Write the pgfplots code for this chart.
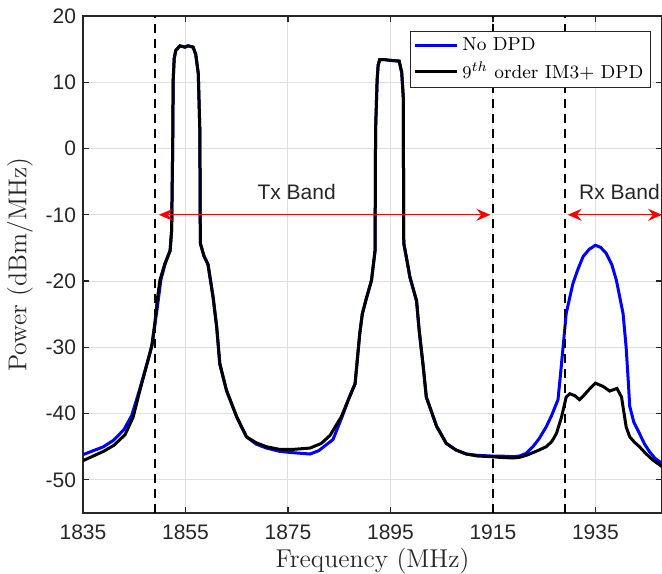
\documentclass[border=0pt]{standalone}
\usepackage{fontspec}
\usepackage{pgfplots}
\pgfplotsset{compat=1.18}
\usetikzlibrary{arrows.meta}
\newfontfamily\arial{Liberation Sans}
\definecolor{gridc}{RGB}{222,222,228}
\definecolor{axc}{RGB}{38,38,38}

\pgfplotstableread{
x y
1835 -46.2
1837 -45.6
1839 -45.0
1841 -44.0
1843 -42.4
1844.5 -40.3
1846 -36.5
1847.7 -31.9
1848.5 -29.5
1849.5 -24
1850.2 -19.8
1851 -17.5
1852 -15.4
1852.3 -12.3
1852.5 0
1852.6 10.3
1852.8 13.6
1853.1 14.8
1853.9 15.5
1854.9 15.3
1855.5 15.5
1856.5 15.3
1857.0 14.2
1857.5 11.3
1857.8 2.8
1857.9 -14.3
1858.6 -16.2
1859.4 -17.5
1860.4 -22.5
1861.1 -27
1861.7 -32.5
1863.0 -36.5
1865.0 -40.5
1866.9 -43.5
1868.8 -44.6
1870.8 -45.2
1873.4 -45.7
1876 -45.9
1879.3 -46.1
1881 -45.6
1883.8 -43.9
1885.4 -40.8
1887 -37.5
1888.1 -35.5
1889.0 -28
1889.5 -25
1890.2 -22.9
1891.3 -19.9
1892.0 -15.4
1892.1 2.8
1892.4 10.3
1892.6 12.6
1892.9 13.4
1894 13.4
1895 13.3
1896.7 13.2
1897.2 11.5
1897.5 7.8
1897.6 -14.3
1898.2 -16.8
1898.8 -19.4
1900.1 -23
1900.6 -27.4
1901.4 -32.9
1902.0 -37.5
1904.0 -41.9
1905.9 -44.5
1907.8 -45.5
1909.8 -46.1
1912 -46.3
1914.7 -46.4
1916.3 -46.4
1918.9 -46.5
1920.2 -46.4
1921.5 -46.0
1922.8 -45.0
1924 -43.8
1925.4 -42.0
1926.5 -40.2
1927.7 -37.9
1928.2 -34
1928.7 -29.9
1929.3 -24.9
1930.6 -20.4
1931.6 -18.2
1932.6 -16.3
1933.8 -15.2
1935.0 -14.6
1936 -14.9
1937.1 -15.8
1938.2 -17.5
1939.1 -19.9
1940.4 -24.9
1941.0 -30
1941.4 -34.9
1941.7 -38.9
1942.5 -41.3
1943.6 -43.0
1944.6 -44.6
1945.6 -45.8
1946.7 -46.8
1948 -47.5
}\nodpd

\pgfplotstableread{
x y
1835 -47.1
1837 -46.4
1839 -45.7
1841 -44.8
1843.2 -43.2
1844.8 -40.5
1846 -36.8
1847.7 -31.9
1848.4 -29.9
1849.0 -26.5
1849.5 -22.8
1850.0 -19.9
1851 -17.3
1852 -15.4
1852.3 -12.3
1852.5 0
1852.6 10.3
1852.8 13.6
1853.1 14.8
1853.9 15.5
1854.9 15.3
1855.5 15.5
1856.5 15.3
1857.0 14.2
1857.5 11.3
1857.8 2.8
1857.9 -14.3
1858.6 -16.2
1859.4 -17.5
1860.4 -22.5
1861.1 -27
1861.7 -32.5
1863.0 -36.5
1865.0 -40.5
1866.9 -43.5
1868.8 -44.4
1870.8 -45.0
1873.4 -45.4
1876 -45.4
1879.3 -45.2
1881.5 -44.5
1883.2 -43.3
1885.4 -40.5
1887 -37.5
1888.1 -35.5
1889.0 -28
1889.5 -25
1890.2 -22.9
1891.3 -19.9
1892.0 -15.4
1892.1 2.8
1892.4 10.3
1892.6 12.6
1892.9 13.4
1894 13.4
1895 13.3
1896.7 13.2
1897.2 11.5
1897.5 7.8
1897.6 -14.3
1898.2 -16.8
1898.8 -19.4
1900.1 -23
1900.6 -27.4
1901.4 -32.9
1902.0 -37.5
1904.0 -41.9
1905.9 -44.5
1907.8 -45.5
1909.8 -46.1
1912 -46.4
1914.7 -46.5
1916.3 -46.6
1918.9 -46.7
1920.2 -46.6
1921.5 -46.3
1922.8 -45.9
1924 -45.5
1925.4 -45.0
1926.5 -44.2
1927.4 -43.0
1928.4 -40.5
1929.3 -37.5
1930.0 -37.0
1931 -37.3
1931.9 -37.9
1932.8 -37.2
1933.6 -36.5
1935.0 -35.4
1936.5 -35.9
1937.8 -36.6
1939.2 -36.2
1940.1 -37.5
1941.0 -42.0
1941.7 -43.5
1942.6 -44.3
1943.6 -45.0
1944.8 -46.0
1946.2 -47.0
1948 -48.0
}\dpd

\begin{document}
\begin{tikzpicture}
\begin{axis}[
 name=ax, scale only axis, width=289.5pt, height=248.5pt,
 xmin=1835, xmax=1948, ymin=-55, ymax=20,
 xtick={1835,1855,...,1935}, ytick={-50,-40,...,20},
 grid=major, grid style={gridc, line width=0.5pt},
 tick align=inside, major tick length=3pt,
 axis line style={axc, line width=0.6pt}, tick style={axc, line width=0.6pt},
 ticklabel style={font=\arial\fontsize{10.5}{12}\selectfont, text=axc},
 /pgf/number format/assume math mode=true,
 /pgf/number format/1000 sep={},
 xticklabel style={yshift=-4.5pt, inner sep=1pt},
 xlabel={Frequency (MHz)}, ylabel={Power (dBm/MHz)},
 label style={font=\fontsize{12.9}{15}\selectfont, text=axc, inner sep=0pt},
 xlabel style={at={(axis description cs:0.5,-0.097)}, anchor=center},
 ylabel style={at={(axis description cs:-0.1088,0.5)}, anchor=center},
 legend style={at={(axis description cs:0.981,0.970)}, anchor=north east, draw=axc, fill=white, line width=0.6pt, font=\fontsize{9.4}{10.5}\selectfont, inner xsep=1.5pt, inner ysep=1pt, row sep=0pt},
 legend cell align=left,
 legend image code/.code={\draw[#1, line width=1.4pt] (0pt,0pt) -- (21pt,0pt);},
]
\addplot[blue, line width=1.5pt] table[x=x,y=y] {\nodpd};
\addlegendentry{No DPD}
\addplot[black, line width=1.5pt] table[x=x,y=y] {\dpd};
\addlegendentry{$9^{th}$ order IM3+ DPD}
\addplot[black, line width=1pt, dash pattern=on 4.5pt off 3pt, forget plot] coordinates {(1849,-55) (1849,20)};
\addplot[black, line width=1pt, dash pattern=on 4.5pt off 3pt, forget plot] coordinates {(1915,-55) (1915,20)};
\addplot[black, line width=1pt, dash pattern=on 4.5pt off 3pt, forget plot] coordinates {(1929,-55) (1929,20)};
\draw[red, line width=0.6pt, {Stealth[length=7pt,width=6pt,inset=2.5pt]}-{Stealth[length=7pt,width=6pt,inset=2.5pt]}] (axis cs:1849.8,-10) -- (axis cs:1914.5,-10);
\draw[red, line width=0.6pt, {Stealth[length=7pt,width=6pt,inset=2.5pt]}-{Stealth[length=7pt,width=6pt,inset=2.5pt]}] (axis cs:1929.6,-10) -- (axis cs:1948,-10);
\node[font=\arial\fontsize{10.5}{12}\selectfont, text=axc] at (axis cs:1876.7,-6.6) {Tx Band};
\node[font=\arial\fontsize{10.5}{12}\selectfont, text=axc] at (axis cs:1939.7,-6.6) {Rx Band};
\end{axis}
\pgfresetboundingbox
\path[use as bounding box] ([xshift=-41.5pt,yshift=-30pt]ax.south west) rectangle ([yshift=8pt]ax.north east);
\end{tikzpicture}
\end{document}
